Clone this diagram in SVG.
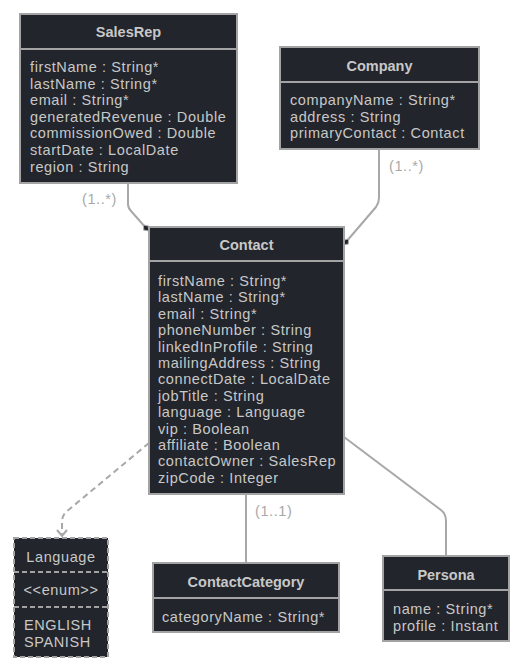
<svg xmlns="http://www.w3.org/2000/svg" width="523" height="671" viewBox="0 0 523 671">
<style>
.box{fill:#22252b;stroke:#a3a3a3;stroke-width:2}
.div{stroke:#a3a3a3;stroke-width:2}
.t{font-family:"Liberation Sans",Arial,sans-serif;font-size:14.5px;letter-spacing:0.6px;fill:#c8c8c8}
.h{font-family:"Liberation Sans",Arial,sans-serif;font-size:14.5px;font-weight:bold;fill:#c8c8c8;text-anchor:middle}
.lbl{font-family:"Liberation Sans",Arial,sans-serif;font-size:14.5px;letter-spacing:0.6px;fill:#a8a8a8}
.ln{fill:none;stroke:#a8a8a8;stroke-width:2}
.dash{fill:none;stroke:#a8a8a8;stroke-width:2;stroke-dasharray:6 4}
</style>
<defs>
<marker id="dia" markerWidth="10" markerHeight="10" refX="5" refY="5" orient="auto" markerUnits="userSpaceOnUse">
<path d="M1,5 L5,2 L9,5 L5,8 Z" fill="#22252b" stroke="#a8a8a8" stroke-width="1"/>
</marker>
<marker id="arr" markerWidth="12" markerHeight="12" refX="6" refY="10" orient="0" markerUnits="userSpaceOnUse">
<path d="M1,4 L6,10 L11,4" fill="none" stroke="#a8a8a8" stroke-width="2"/>
</marker>
</defs>
<g id="connectors">
<path class="ln" d="M128,183 L128,204 Q128,208 131,211 L146,228" marker-end="url(#dia)"/>
<path class="ln" d="M379,149 L379,198 Q379,203 376,207 L346,242" marker-end="url(#dia)"/>
<path class="dash" d="M149,443 L66,512 Q62,516 62,522 L62,536" marker-end="url(#arr)"/>
<path class="ln" d="M246,494 L246,563"/>
<path class="ln" d="M344,437 L441,510 Q446,514 446,521 L446,556"/>
<text class="lbl" x="82" y="204">(1..*)</text>
<text class="lbl" x="389" y="171">(1..*)</text>
<text class="lbl" x="255" y="516">(1..1)</text>
</g>
<g id="SalesRep">
<rect class="box" x="20" y="14" width="217" height="169"/>
<line class="div" x1="20" y1="49" x2="237" y2="49"/>
<text class="h" x="128.5" y="37">SalesRep</text>
<text class="t" x="30" y="72">firstName : String*</text>
<text class="t" x="30" y="88.6">lastName : String*</text>
<text class="t" x="30" y="105.2">email : String*</text>
<text class="t" x="30" y="121.8">generatedRevenue : Double</text>
<text class="t" x="30" y="138.4">commissionOwed : Double</text>
<text class="t" x="30" y="155">startDate : LocalDate</text>
<text class="t" x="30" y="171.6">region : String</text>
</g>
<g id="Company">
<rect class="box" x="280" y="47" width="199" height="102"/>
<line class="div" x1="280" y1="82" x2="479" y2="82"/>
<text class="h" x="379.5" y="71">Company</text>
<text class="t" x="290" y="105">companyName : String*</text>
<text class="t" x="290" y="121.5">address : String</text>
<text class="t" x="290" y="138">primaryContact : Contact</text>
</g>
<g id="Contact">
<rect class="box" x="149" y="227" width="195" height="267"/>
<line class="div" x1="149" y1="261" x2="344" y2="261"/>
<text class="h" x="246.5" y="250">Contact</text>
<text class="t" x="158" y="286">firstName : String*</text>
<text class="t" x="158" y="302.4">lastName : String*</text>
<text class="t" x="158" y="318.8">email : String*</text>
<text class="t" x="158" y="335.2">phoneNumber : String</text>
<text class="t" x="158" y="351.6">linkedInProfile : String</text>
<text class="t" x="158" y="368">mailingAddress : String</text>
<text class="t" x="158" y="384.4">connectDate : LocalDate</text>
<text class="t" x="158" y="400.8">jobTitle : String</text>
<text class="t" x="158" y="417.2">language : Language</text>
<text class="t" x="158" y="433.6">vip : Boolean</text>
<text class="t" x="158" y="450">affiliate : Boolean</text>
<text class="t" x="158" y="466.4">contactOwner : SalesRep</text>
<text class="t" x="158" y="482.8">zipCode : Integer</text>
</g>
<g id="Language">
<rect class="box" x="14" y="538" width="94" height="119" stroke-dasharray="5 3"/>
<line class="div" x1="14" y1="572" x2="108" y2="572" stroke-dasharray="5 3"/>
<line class="div" x1="14" y1="607" x2="108" y2="607" stroke-dasharray="5 3"/>
<text class="t" x="61" y="562" text-anchor="middle">Language</text>
<text class="t" x="61" y="595" text-anchor="middle">&lt;&lt;enum&gt;&gt;</text>
<text class="t" x="24" y="630">ENGLISH</text>
<text class="t" x="24" y="646.5">SPANISH</text>
</g>
<g id="ContactCategory">
<rect class="box" x="153" y="563" width="186" height="69"/>
<line class="div" x1="153" y1="598" x2="339" y2="598"/>
<text class="h" x="246" y="587">ContactCategory</text>
<text class="t" x="162" y="622">categoryName : String*</text>
</g>
<g id="Persona">
<rect class="box" x="383" y="556" width="126" height="85"/>
<line class="div" x1="383" y1="590" x2="509" y2="590"/>
<text class="h" x="446" y="580">Persona</text>
<text class="t" x="393" y="614">name : String*</text>
<text class="t" x="393" y="630.5">profile : Instant</text>
</g>
</svg>
